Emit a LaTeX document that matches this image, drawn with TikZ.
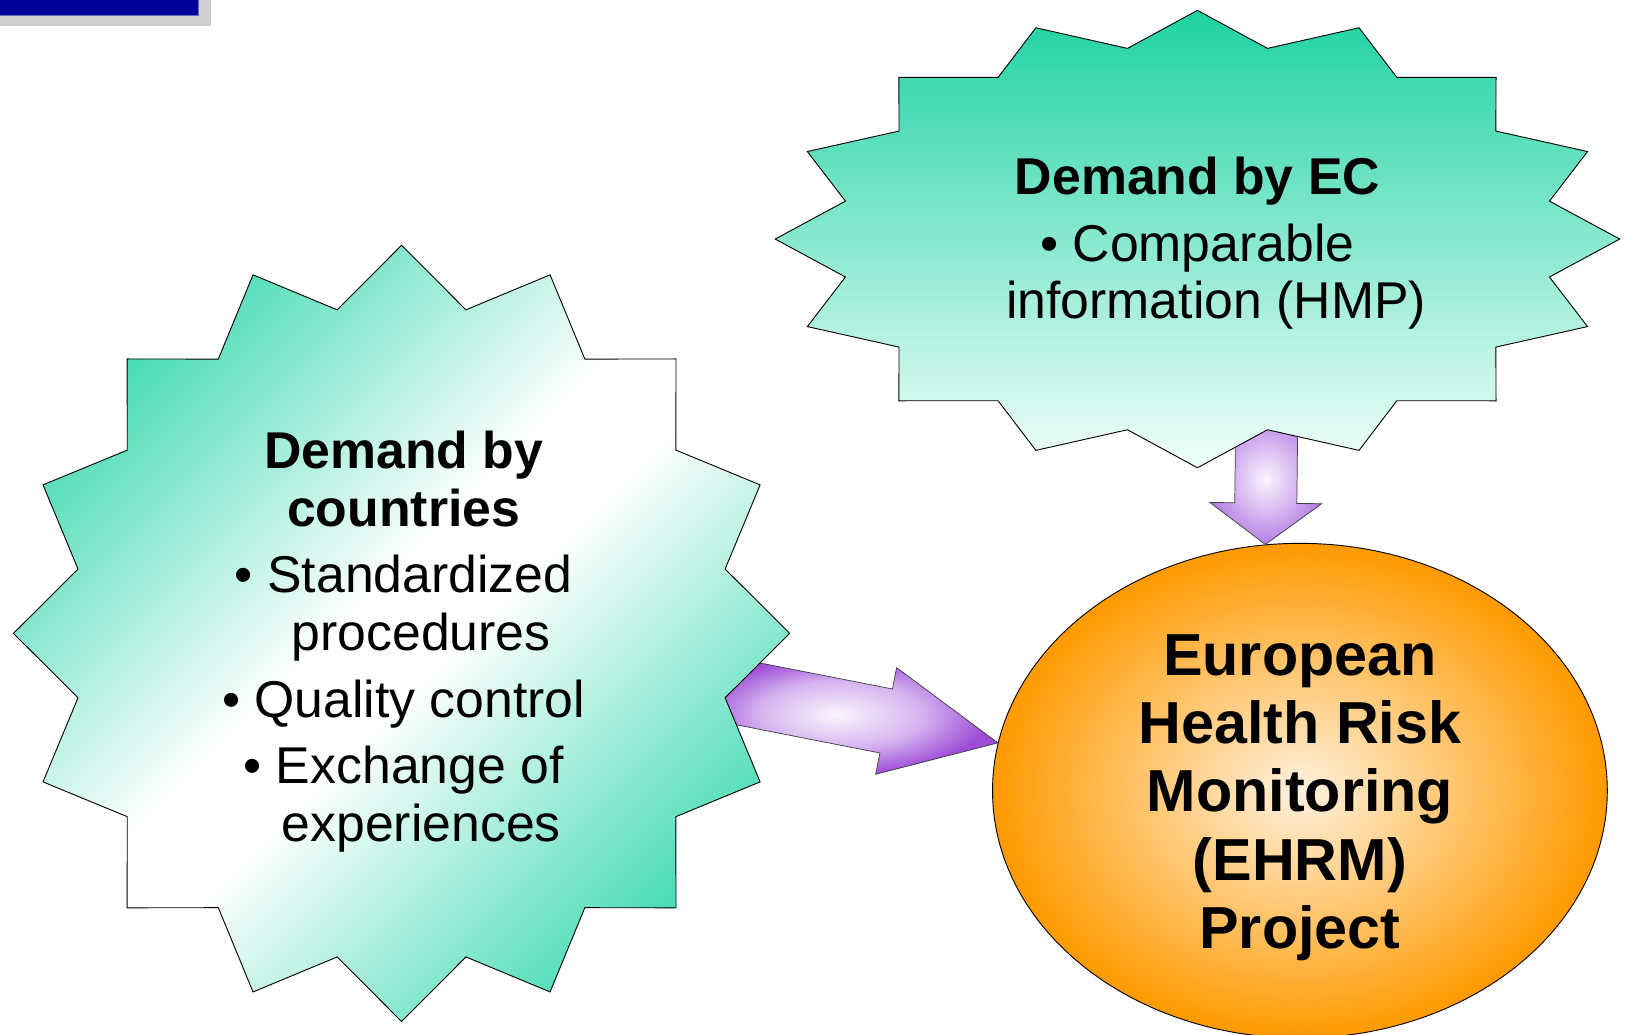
\documentclass[tikz,border=0pt]{standalone}
\usepackage{fontspec}
\setmainfont{Liberation Sans}
\usetikzlibrary{shapes.geometric,calc}

\definecolor{slideblue}{RGB}{0,0,153}
\definecolor{slidegray}{RGB}{208,208,208}
\definecolor{tealdark}{RGB}{30,210,162}
\definecolor{tealmid}{RGB}{64,218,178}
\definecolor{tealpale}{RGB}{242,255,251}
\definecolor{orangerim}{RGB}{255,154,0}
\definecolor{orangecore}{RGB}{255,241,222}
\definecolor{lilacdeep}{RGB}{158,76,214}
\definecolor{lilaclight}{RGB}{214,180,240}
\definecolor{lilacsoft}{RGB}{180,126,226}
\definecolor{lilaccore}{RGB}{250,245,253}

\pgfdeclareverticalshading{ctryshade}{100bp}{color(0bp)=(tealmid); color(24bp)=(tealmid); color(47bp)=(white); color(53bp)=(white); color(76bp)=(tealmid); color(100bp)=(tealmid)}
\pgfdeclareradialshading{leftarrowshade}{\pgfpoint{-3bp}{0bp}}{color(0bp)=(lilaccore); color(14bp)=(lilaclight); color(25bp)=(lilacdeep); color(50bp)=(lilacdeep)}
\pgfdeclareradialshading{downarrowshade}{\pgfpoint{0bp}{0bp}}{color(0bp)=(lilaccore); color(14bp)=(lilaclight); color(25bp)=(lilacsoft); color(50bp)=(lilacsoft)}

\begin{document}
\begin{tikzpicture}[
            x=0.2mm,
            y=0.2mm,
            every node/.style={inner sep=0pt},
            bodytext/.style={align=center, font=\fontsize{28.45}{31.6}\selectfont},
            projtext/.style={align=center, font=\bfseries\fontsize{32.6}{37.4}\selectfont},
            fatarrow/.style={draw=black!75, line width=0.4pt},
            starline/.style={draw=black, line width=0.5pt}
        ]

        \useasboundingbox (0,0) rectangle (1573,1000);

        % title bar corner
        \fill[slidegray] (0,975) rectangle (204,1000);
        \fill[slideblue] (0,985.5) rectangle (192,1000);
        \draw[slideblue!60!white, line width=0.4pt] (0,985.5) -- (192,985.5) -- (192,1000);

        % project
        \node[ellipse, draw=black, line width=0.5pt, minimum width=118.8mm, minimum height=95.6mm,
              inner color=orangecore, outer color=orangerim, projtext] (proj) at (1256,236)
              {\rule{0pt}{10.6mm}European\\Health Risk\\Monitoring\\(EHRM)\\Project};

        % arrow from countries
        \coordinate (s1) at (690,336);
        \coordinate (t1) at (proj.171);
        \coordinate (b1) at ($(t1)!22mm!(s1)$);
        \shade[fatarrow, shading=leftarrowshade]
            ($(s1)!6.3mm!90:(t1)$) -- ($(b1)!6.3mm!90:(t1)$) -- ($(b1)!10.5mm!90:(t1)$) -- (t1)
            -- ($(b1)!10.5mm!-90:(t1)$) -- ($(b1)!6.3mm!-90:(t1)$) -- ($(s1)!6.3mm!-90:(t1)$) -- cycle;

        % arrow from EC
        \coordinate (s2) at (1224,600);
        \coordinate (t2) at (proj.98);
        \coordinate (b2) at ($(t2)!8mm!(s2)$);
        \shade[fatarrow, shading=downarrowshade]
            ($(s2)!6mm!90:(t2)$) -- ($(b2)!6mm!90:(t2)$) -- ($(b2)!10.8mm!90:(t2)$) -- (t2)
            -- ($(b2)!10.8mm!-90:(t2)$) -- ($(b2)!6mm!-90:(t2)$) -- ($(s2)!6mm!-90:(t2)$) -- cycle;

        % bursts (16 points, inner radius 0.85)
        \shade[starline, shading=ctryshade, shading angle=45]
            plot[variable=\k, samples at={0,...,31}]
            ({388+375*(1-0.15*mod(\k,2))*cos(90+11.25*\k)}, {388+375*(1-0.15*mod(\k,2))*sin(90+11.25*\k)}) -- cycle;
        \shade[starline, top color=tealdark, bottom color=tealpale]
            plot[variable=\k, samples at={0,...,31}]
            ({1157+408*(1-0.15*mod(\k,2))*cos(90+11.25*\k)}, {769+221*(1-0.15*mod(\k,2))*sin(90+11.25*\k)}) -- cycle;

        % texts
        \node[bodytext] (ctry) at (390,380)
            {\textbf{Demand by}\\\textbf{countries}\\[1.8mm]• Standardized\\\hspace*{6.8mm}procedures\\[1.8mm]• Quality control\\[1.8mm]• Exchange of\\\hspace*{6.8mm}experiences};
        \node[bodytext] (ec) at (1157,765)
            {\textbf{Demand by EC}\\[1.8mm]• Comparable\\\hspace*{7.2mm}information (HMP)};

        \end{tikzpicture}
\end{document}
